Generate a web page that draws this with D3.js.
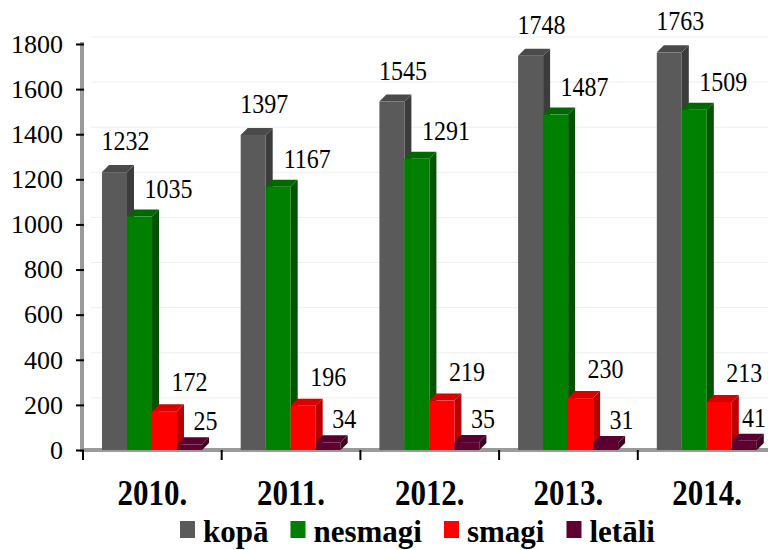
<!DOCTYPE html>
<html>
<head>
<meta charset="utf-8">
<script src="https://cdn.jsdelivr.net/npm/d3@7"></script>
<style>
  body { margin: 0; background: #fff; }
</style>
</head>
<body>
<div class="chart"></div>
<script>
// data
var years = ["2010.", "2011.", "2012.", "2013.", "2014."];
var seriesNames = ["kopā", "nesmagi", "smagi", "letāli"];
var kopa = [1232, 1397, 1545, 1748, 1763];
var nesmagi = [1035, 1167, 1291, 1487, 1509];
var smagi = [172, 196, 219, 230, 213];
var letali = [25, 34, 35, 31, 41];
var yTicks = [0, 200, 400, 600, 800, 1000, 1200, 1400, 1600, 1800];

var seriesValues = [kopa, nesmagi, smagi, letali];
// front, side, top colours for each series
var colors = [
  {front: "#5a5a5a", side: "#3c3c3c", top: "#4a4a4a"},
  {front: "#008000", side: "#005400", top: "#006800"},
  {front: "#ff0000", side: "#bb0000", top: "#d80000"},
  {front: "#5e0032", side: "#3e0020", top: "#5a0030"}
];
// label offsets relative to bar centre / front top
var labelDx = [11, 29, 25, 16];
var labelDy = [-31, -28, -29, -23];

var svgWidth = 768;
var svgHeight = 550;
var depth = 7;

var svg = d3.select(".chart")
  .append("svg")
  .attr("width", svgWidth)
  .attr("height", svgHeight);

var x = d3.scaleBand().domain(years).range([83, 83 + 5 * 138.7]).padding(0);
var xs = d3.scaleBand().domain(seriesNames).range([19, 119]).padding(0);
var y = d3.scaleLinear().domain([0, 1800]).range([450, 44]);

// faint back gridlines
svg.append("g").selectAll("line")
  .data(yTicks.slice(1))
  .enter()
  .append("line")
  .attr("x1", 84 + depth)
  .attr("x2", svgWidth)
  .attr("y1", function(d) { return y(d) - depth; })
  .attr("y2", function(d) { return y(d) - depth; })
  .attr("stroke", "#eeeeee")
  .attr("stroke-width", 1);

// left wall and floor
svg.append("rect").attr("x", 80).attr("y", y(1800) - 2).attr("width", 4)
  .attr("height", y(0) - y(1800) + 4).attr("fill", "#9a9a9a");
svg.append("rect").attr("x", 80).attr("y", y(0) - 2).attr("width", svgWidth - 80)
  .attr("height", 4).attr("fill", "#9a9a9a");

// bars
var rows = [];
years.forEach(function(yr, i) {
  seriesNames.forEach(function(s, j) {
    rows.push({year: yr, series: s, si: j, value: seriesValues[j][i]});
  });
});

var bars = svg.append("g").selectAll("g")
  .data(rows)
  .enter()
  .append("g");

bars.each(function(d) {
  var g = d3.select(this);
  var x0 = x(d.year) + xs(d.series);
  var w = xs.bandwidth();
  var yt = y(d.value);
  var yb = y(0);
  var c = colors[d.si];
  // side face
  g.append("path")
    .attr("d", "M" + (x0 + w) + "," + yb + "L" + (x0 + w + depth) + "," + (yb - depth) +
      "L" + (x0 + w + depth) + "," + (yt - depth) + "L" + (x0 + w) + "," + yt + "Z")
    .attr("fill", c.side);
  // top face
  g.append("path")
    .attr("d", "M" + x0 + "," + yt + "L" + (x0 + depth) + "," + (yt - depth) +
      "L" + (x0 + w + depth) + "," + (yt - depth) + "L" + (x0 + w) + "," + yt + "Z")
    .attr("fill", c.top);
  // front face
  g.append("rect")
    .attr("x", x0)
    .attr("y", yt)
    .attr("width", w)
    .attr("height", yb - yt)
    .attr("fill", c.front);
});

// value labels
svg.append("g").selectAll("text")
  .data(rows)
  .enter()
  .append("text")
  .attr("text-anchor", "middle")
  .attr("dominant-baseline", "central")
  .style("font-size", "24px")
  .attr("transform", function(d) {
    var cx = x(d.year) + xs(d.series) + xs.bandwidth() / 2 + labelDx[d.si];
    cx = Math.min(cx, svgWidth - 14);
    var cy = y(d.value) + labelDy[d.si];
    return "translate(" + cx + "," + cy + ") scale(1,1.15)";
  })
  .text(function(d) { return d.value; });

// y axis
var leftAxis = d3.axisLeft(y).tickValues(yTicks).tickFormat(d3.format("d"))
  .tickSize(8).tickPadding(13);
var yAxis = svg.append("g")
  .attr("transform", "translate(84,0)")
  .call(leftAxis);
yAxis.select(".domain").remove();
yAxis.selectAll("line").attr("stroke", "#000").attr("stroke-width", 2);
yAxis.selectAll("text")
  .style("font-size", "26px")
  .attr("fill", "#000");

// x ticks at category boundaries
svg.append("g").selectAll("line")
  .data(years)
  .enter()
  .append("line")
  .attr("x1", function(d) { return x(d); })
  .attr("x2", function(d) { return x(d); })
  .attr("y1", y(0))
  .attr("y2", y(0) + 10)
  .attr("stroke", "#000")
  .attr("stroke-width", 2);

// category labels
svg.append("g").selectAll("text")
  .data(years)
  .enter()
  .append("text")
  .attr("text-anchor", "middle")
  .style("font-family", "Liberation Serif")
  .style("font-size", "31px")
  .style("font-weight", "bold")
  .attr("transform", function(d) {
    return "translate(" + (x(d) + x.bandwidth() / 2) + ",505) scale(1,1.15)";
  })
  .text(function(d) { return d; });

// legend
var lx = 180;
seriesNames.forEach(function(s, j) {
  svg.append("rect")
    .attr("x", lx)
    .attr("y", 521)
    .attr("width", 15)
    .attr("height", 17)
    .attr("fill", colors[j].front);
  var t = svg.append("text")
    .attr("x", lx + 23)
    .attr("y", 542)
    .style("font-family", "Liberation Serif")
    .style("font-size", "31px")
    .style("font-weight", "bold")
    .text(s);
  lx = lx + 23 + t.node().getComputedTextLength() + 22;
});

// every label in serif
svg.selectAll("text").style("font-family", "Liberation Serif");
</script>
</body>
</html>
